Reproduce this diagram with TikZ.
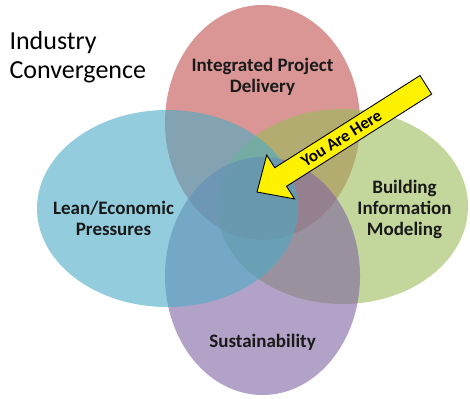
\documentclass[tikz,border=0pt]{standalone}
\usepackage{fontspec}
\setmainfont{Carlito}
\usepackage{tikz}
\usetikzlibrary{shapes.geometric, positioning}
\definecolor{ipdred}{HTML}{C0504D}
\definecolor{leanblue}{HTML}{4BACC6}
\definecolor{bimgreen}{HTML}{9BBB59}
\definecolor{susviolet}{HTML}{8064A2}
\tikzstyle{blob} = [ellipse, inner sep=0pt, fill opacity=0.6, draw=none]
\tikzstyle{label} = [align=center, text=black!90, font=\bfseries\fontsize{19}{21}\selectfont]
\tikzstyle{pointer} = [fill=yellow, draw=black, line width=0.9pt, line join=miter]

\begin{document}
\begin{tikzpicture}[x=1pt, y=-1pt]
\useasboundingbox (0,0) rectangle (470,398);

% the four sets
\node (ipd) [blob, fill=ipdred, minimum width=195pt, minimum height=235pt] at (262.5,122.5) {};
\node (bim) [blob, fill=bimgreen, minimum width=251pt, minimum height=195pt] at (342.5,206.5) {};
\node (sus) [blob, fill=susviolet, minimum width=195pt, minimum height=238pt] at (262.5,276) {};
\node (lean) [blob, fill=leanblue, minimum width=261pt, minimum height=197pt] at (167.5,208.5) {};

% labels
\node (title) [anchor=west, align=left, font=\fontsize{26}{29}\selectfont] at (6,57) {Industry\\Convergence};
\node (ipdtext) [label] at (262.5,77) {Integrated Project\\Delivery};
\node (leantext) [label] at (113.5,218) {Lean/Economic\\Pressures};
\node (bimtext) [label] at (404.5,209) {Building\\Information\\Modeling};
\node (sustext) [label] at (262.5,342) {Sustainability};

% you are here
\begin{scope}[shift={(257,192)}, rotate=32.4]
\draw [pointer] (0,0) -- (28,-26) -- (28,-11) -- (200,-11) -- (200,11) -- (28,11) -- (28,26) -- cycle;
\node (here) [rotate=32.4, font=\bfseries\fontsize{17}{19}\selectfont] at (100,0) {You Are Here};
\end{scope}

\end{tikzpicture}
\end{document}
